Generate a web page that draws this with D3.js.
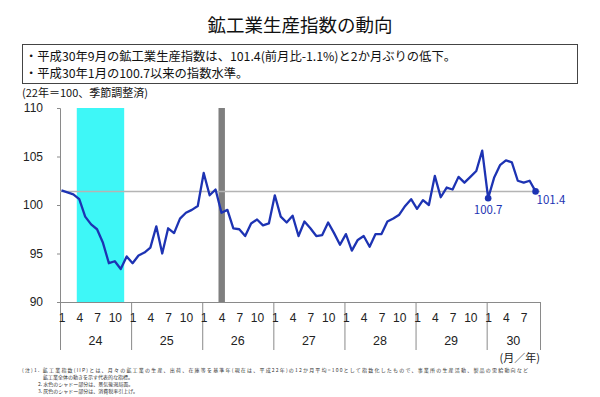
<!DOCTYPE html>
<html>
<head>
<meta charset="utf-8">
<script src="https://cdn.jsdelivr.net/npm/d3@7"></script>
<style>
  body { margin: 0; background: #fff; }
  svg { font-family: "Noto Sans CJK JP", sans-serif; }
</style>
</head>
<body>
<div id="chart"></div>
<script>
// 鉱工業生産指数（平成22年=100、季節調整済）平成24年1月〜平成30年9月
const years = ["24", "25", "26", "27", "28", "29", "30"]
const monthTicks = [1, 4, 7, 10]
const lastMonth = 9 // 平成30年は9月まで
const iip = [
  101.5, 101.3, 101.1, 100.6, 98.8, 98.0, 97.5, 96.1, 94.0, 94.2, 93.4, 94.7,
  94.0, 94.8, 95.1, 95.6, 97.8, 95.0, 97.6, 97.1, 98.6, 99.2, 99.5, 99.9,
  103.3, 101.0, 101.6, 99.2, 99.5, 97.6, 97.5, 96.8, 98.1, 98.5, 97.9, 98.1,
  101.0, 98.8, 98.2, 98.9, 96.8, 98.3, 97.6, 96.8, 96.9, 98.2, 97.1, 95.9,
  97.0, 95.3, 96.4, 96.8, 95.7, 97.0, 97.0, 98.3, 98.6, 99.0, 99.9, 100.6,
  99.6, 100.5, 100.0, 103.0, 100.8, 101.8, 101.6, 102.9, 102.3, 102.9, 103.5, 105.6,
  100.7, 102.8, 104.1, 104.6, 104.4, 102.5, 102.3, 102.5, 101.4
]
const yTicks = [90, 95, 100, 105, 110]
const refLevel = 101.4           // 直近値の水平線
const recession = [3, 11]        // 景気後退局面（月番号、終わりは含まない）
const taxHike = 27               // 消費税率引上げ（平成26年4月）
const markers = [
  { i: 72, label: "100.7" },
  { i: 80, label: "101.4" }
]
const summary = [
  "・平成30年9月の鉱工業生産指数は、101.4(前月比-1.1%)と2か月ぶりの低下。",
  "・平成30年1月の100.7以来の指数水準。"
]
const notes = [
  "(注)1. 鉱工業指数(IIP)とは、月々の鉱工業の生産、出荷、在庫等を基準年(現在は、平成22年)の12か月平均=100として指数化したもので、事業所の生産活動、製品の需給動向など",
  "鉱工業全体の動きを示す代表的な指標。",
  "2. 水色のシャドー部分は、景気後退局面。",
  "3. 灰色のシャドー部分は、消費税率引上げ。"
]

const W = 600, H = 397
const plot = { left: 60, right: 540, top: 108, bottom: 302 }
const nMonths = (years.length - 1) * 12 + lastMonth
const blue = "#1d33b3"

const svg = d3.select("#chart").append("svg")
  .attr("width", W).attr("height", H)

// 見出し
svg.append("text")
  .attr("x", 300).attr("y", 32)
  .attr("text-anchor", "middle")
  .attr("font-size", 18.5)
  .attr("fill", "#111")
  .text("鉱工業生産指数の動向")

svg.append("rect")
  .attr("x", 22.5).attr("y", 44.5)
  .attr("width", 555).attr("height", 39)
  .attr("fill", "none").attr("stroke", "#444").attr("stroke-width", 1)

svg.append("g")
  .selectAll("text")
  .data(summary)
  .join("text")
  .attr("x", 25)
  .attr("y", (d, i) => 61 + i * 17)
  .attr("font-size", 12.3)
  .attr("fill", "#111")
  .text(d => d)

svg.append("text")
  .attr("x", 22).attr("y", 97)
  .attr("font-size", 11).attr("fill", "#111")
  .text("(22年＝100、季節調整済)")

// scales: 月の境界
const x = d3.scaleLinear().domain([0, nMonths]).range([plot.left, plot.right])
const px = i => x(i + 0.25)
const y = d3.scaleLinear().domain([90, 110]).range([plot.bottom, plot.top])

// シャドー
svg.append("rect")
  .attr("x", x(recession[0]) - 1)
  .attr("y", plot.top)
  .attr("width", x(recession[1]) - x(recession[0]))
  .attr("height", plot.bottom - plot.top)
  .attr("fill", "#3ef7f7")

svg.append("rect")
  .attr("x", x(taxHike) - 1.5)
  .attr("y", plot.top)
  .attr("width", x(taxHike + 1) - x(taxHike) + 0.5)
  .attr("height", plot.bottom - plot.top)
  .attr("fill", "#7f7f7f")

// y軸
const yAxis = svg.append("g")
  .attr("transform", `translate(${plot.left},0)`)
  .call(d3.axisLeft(y).tickValues(yTicks).tickSize(3).tickPadding(14))
yAxis.select(".domain").attr("stroke", "#8a8a8a")
yAxis.selectAll(".tick line").attr("stroke", "#8a8a8a")
yAxis.selectAll("text")
  .attr("font-size", 12).attr("fill", "#222")
  .attr("font-family", "'Liberation Sans', sans-serif")

// x軸（年の区切り線）
const yearBounds = d3.range(0, years.length).map(k => k * 12).concat([nMonths])
const xAxis = svg.append("g")
  .attr("transform", `translate(0,${plot.bottom})`)
  .call(d3.axisBottom(x).tickValues(yearBounds).tickSize(48).tickFormat("").tickSizeOuter(0))
xAxis.select(".domain").attr("stroke", "#8a8a8a")
xAxis.selectAll(".tick line").attr("stroke", "#8a8a8a")

// 月ラベル
const monthLabels = []
years.forEach((yr, k) => {
  monthTicks.forEach(m => {
    const i = k * 12 + m - 1
    if (i < nMonths) monthLabels.push({ i, m })
  })
})
svg.append("g")
  .selectAll("text")
  .data(monthLabels)
  .join("text")
  .attr("x", d => px(d.i) + 0.5)
  .attr("y", 322)
  .attr("text-anchor", "middle")
  .attr("font-size", 12)
  .attr("font-family", "'Liberation Sans', sans-serif")
  .attr("fill", "#222")
  .text(d => d.m)

// 年ラベル
svg.append("g")
  .selectAll("text")
  .data(years)
  .join("text")
  .attr("x", (d, k) => (x(k * 12) + x(Math.min((k + 1) * 12, nMonths))) / 2)
  .attr("y", 345)
  .attr("text-anchor", "middle")
  .attr("font-size", 12.5)
  .attr("font-family", "'Liberation Sans', sans-serif")
  .attr("fill", "#222")
  .text(d => d)

svg.append("text")
  .attr("x", 540).attr("y", 362)
  .attr("text-anchor", "end")
  .attr("font-size", 11).attr("fill", "#222")
  .text("(月／年)")

// 基準線
svg.append("line")
  .attr("x1", plot.left).attr("x2", plot.right)
  .attr("y1", y(refLevel)).attr("y2", y(refLevel))
  .attr("stroke", "#b4b4b4").attr("stroke-width", 1.5)

// 折れ線
const line = d3.line()
  .x((d, i) => px(i))
  .y(d => y(d))
svg.append("path")
  .datum(iip)
  .attr("d", line)
  .attr("fill", "none")
  .attr("stroke", blue)
  .attr("stroke-width", 2.3)
  .attr("stroke-linejoin", "round")

svg.append("g")
  .selectAll("circle")
  .data(markers)
  .join("circle")
  .attr("cx", d => px(d.i))
  .attr("cy", d => y(iip[d.i]))
  .attr("r", 3.3)
  .attr("fill", blue)

svg.append("text")
  .attr("x", px(72)).attr("y", 214)
  .attr("text-anchor", "middle")
  .attr("font-size", 11.5).attr("fill", blue)
  .text(markers[0].label)
svg.append("text")
  .attr("x", px(80) + 1).attr("y", 204)
  .attr("font-size", 11.5).attr("fill", blue)
  .text(markers[1].label)

// 注記
svg.append("g")
  .selectAll("text")
  .data(notes)
  .join("text")
  .attr("x", (d, i) => i === 0 ? 22 : (i === 1 ? 43 : 38))
  .attr("y", (d, i) => 371.5 + i * 7.2)
  .attr("font-size", 5)
  .attr("fill", "#333")
  .attr("textLength", (d, i) => i === 0 ? 506 : null)
  .attr("lengthAdjust", "spacing")
  .text(d => d)
</script>
</body>
</html>
